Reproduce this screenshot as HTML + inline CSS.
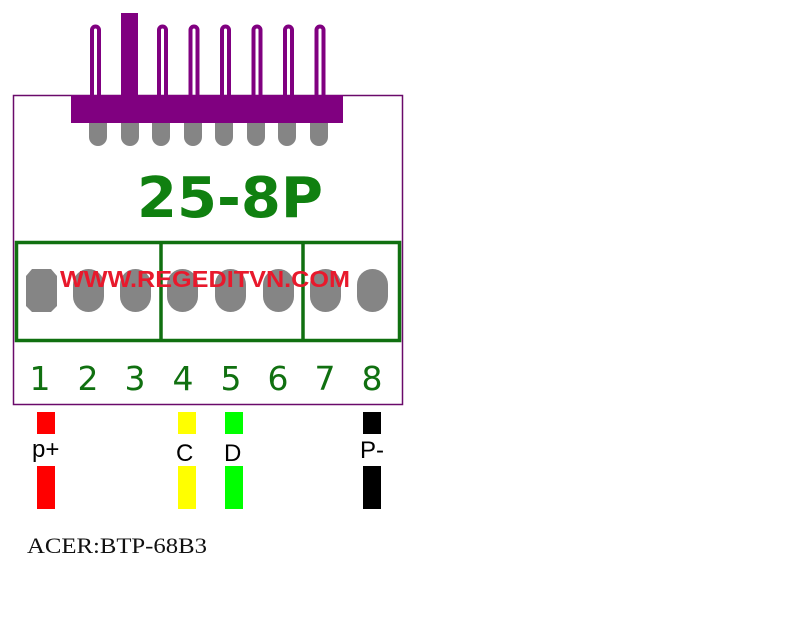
<!DOCTYPE html>
<html><head><style>body{margin:0;background:#fff}svg{display:block}</style></head><body>
<svg width="796" height="619" xmlns="http://www.w3.org/2000/svg">
<rect x="0" y="0" width="796" height="619" fill="#fff"/>
<rect x="13.5" y="95.5" width="389" height="309" fill="none" stroke="#6a0a6a" stroke-width="1.5"/>
<g fill="#800080">
<rect x="71" y="95" width="272" height="28"/>
<rect x="121" y="13" width="17" height="84"/>
</g>
<g fill="none" stroke="#800080" stroke-width="4">
<path d="M92 97V30a3.5 3.5 0 0 1 7 0V97"/>
<path d="M159 97V30a3.5 3.5 0 0 1 7 0V97"/>
<path d="M190.5 97V30a3.5 3.5 0 0 1 7 0V97"/>
<path d="M222 97V30a3.5 3.5 0 0 1 7 0V97"/>
<path d="M253.5 97V30a3.5 3.5 0 0 1 7 0V97"/>
<path d="M285 97V30a3.5 3.5 0 0 1 7 0V97"/>
<path d="M316.5 97V30a3.5 3.5 0 0 1 7 0V97"/>
</g>
<g fill="#858585">
<path d="M89 123h18v14a9 9 0 0 1-18 0z"/>
<path d="M121 123h18v14a9 9 0 0 1-18 0z"/>
<path d="M152 123h18v14a9 9 0 0 1-18 0z"/>
<path d="M184 123h18v14a9 9 0 0 1-18 0z"/>
<path d="M215 123h18v14a9 9 0 0 1-18 0z"/>
<path d="M247 123h18v14a9 9 0 0 1-18 0z"/>
<path d="M278 123h18v14a9 9 0 0 1-18 0z"/>
<path d="M310 123h18v14a9 9 0 0 1-18 0z"/>
</g>
<text x="230" y="217" text-anchor="middle" font-family="DejaVu Sans, sans-serif" font-size="56" font-weight="bold" fill="#108010" textLength="186" lengthAdjust="spacingAndGlyphs">25-8P</text>
<g fill="none" stroke="#107010" stroke-width="3.5">
<rect x="16.5" y="242.5" width="383" height="98"/>
<line x1="161" y1="242" x2="161" y2="341"/>
<line x1="303" y1="242" x2="303" y2="341"/>
</g>
<path d="M32 269h19l6 7v30l-6 6h-19l-6-6v-30z" fill="#858585"/>
<g fill="#858585">
<rect x="73" y="269" width="31" height="43" rx="15.5"/>
<rect x="120" y="269" width="31" height="43" rx="15.5"/>
<rect x="167" y="269" width="31" height="43" rx="15.5"/>
<rect x="215" y="269" width="31" height="43" rx="15.5"/>
<rect x="263" y="269" width="31" height="43" rx="15.5"/>
<rect x="310" y="269" width="31" height="43" rx="15.5"/>
<rect x="357" y="269" width="31" height="43" rx="15.5"/>
</g>
<text x="205" y="287" text-anchor="middle" font-family="Liberation Sans, sans-serif" font-size="23" font-weight="bold" fill="#e8192c" textLength="290" lengthAdjust="spacingAndGlyphs">WWW.REGEDITVN.COM</text>
<g font-family="DejaVu Sans, sans-serif" font-size="33" fill="#107010" text-anchor="middle">
<text x="40" y="390">1</text><text x="88" y="390">2</text><text x="135" y="390">3</text><text x="183" y="390">4</text>
<text x="231" y="390">5</text><text x="278" y="390">6</text><text x="325" y="390">7</text><text x="372" y="390">8</text>
</g>
<rect x="37" y="412" width="18" height="22" fill="#f00"/><rect x="37" y="466" width="18" height="43" fill="#f00"/>
<rect x="178" y="412" width="18" height="22" fill="#ff0"/><rect x="178" y="466" width="18" height="43" fill="#ff0"/>
<rect x="225" y="412" width="18" height="22" fill="#0f0"/><rect x="225" y="466" width="18" height="43" fill="#0f0"/>
<rect x="363" y="412" width="18" height="22" fill="#000"/><rect x="363" y="466" width="18" height="43" fill="#000"/>
<g font-family="Liberation Sans, sans-serif" font-size="24" fill="#000">
<text x="32" y="457">p+</text><text x="176" y="461">C</text><text x="224" y="461">D</text><text x="360" y="458">P-</text>
</g>
<text x="27" y="553" font-family="Liberation Serif, serif" font-size="22" fill="#111" textLength="180" lengthAdjust="spacingAndGlyphs">ACER:BTP-68B3</text>
</svg>
</body></html>
